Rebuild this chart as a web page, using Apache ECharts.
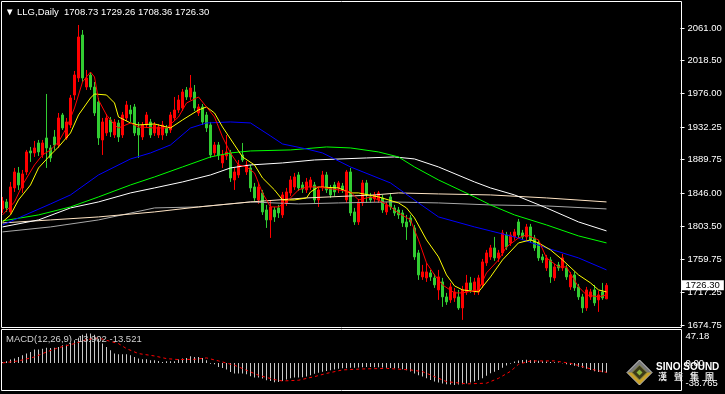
<!DOCTYPE html>
<html><head><meta charset="utf-8">
<script src="https://cdn.jsdelivr.net/npm/echarts@6/dist/echarts.min.js"></script>
<style>html,body{margin:0;padding:0;background:#000;overflow:hidden}#c{width:725px;height:394px}</style>
</head><body><div id="c"></div>
<script>
const symbolName = 'LLG,Daily';
const opens = [1825.7,1834.8,1821.8,1853.0,1872.5,1853.0,1873.8,1901.1,1898.5,1911.5,1895.9,1918.0,1905.0,1919.3,1908.9,1947.9,1918.0,1934.9,1973.9,1996.0,2051.9,1984.3,1999.9,1984.3,1964.8,1915.4,1924.5,1941.4,1921.9,1937.5,1921.9,1944.0,1954.4,1958.3,1931.0,1919.3,1934.9,1938.8,1924.5,1921.9,1921.9,1931.0,1928.4,1944.0,1954.4,1957.0,1980.4,1971.3,1977.8,1950.5,1958.3,1947.9,1934.9,1898.5,1908.9,1885.5,1894.6,1898.5,1863.4,1869.9,1895.9,1873.8,1879.0,1854.3,1837.4,1846.5,1824.4,1811.4,1824.4,1827.0,1817.9,1833.5,1846.5,1854.3,1869.9,1856.9,1850.4,1854.3,1856.9,1837.4,1853.0,1869.9,1853.0,1856.9,1853.0,1855.6,1837.4,1873.8,1821.8,1808.8,1833.5,1859.5,1841.3,1838.7,1837.4,1840.0,1821.8,1841.3,1827.0,1824.4,1820.5,1808.8,1814.0,1801.0,1768.5,1737.3,1736.0,1742.5,1736.0,1720.4,1730.8,1711.3,1707.4,1710.0,1711.3,1697.0,1717.8,1729.5,1717.8,1717.8,1726.9,1755.5,1763.3,1775.0,1762.0,1768.5,1791.9,1781.5,1789.3,1808.8,1794.5,1789.3,1802.3,1788.0,1781.5,1763.3,1749.0,1759.4,1736.0,1752.9,1749.0,1749.0,1724.3,1739.9,1724.3,1711.3,1697.0,1711.3,1720.4,1707.4,1717.8,1708.73];
const closes = [1836.1,1827.0,1854.3,1873.8,1856.9,1871.2,1899.8,1898.5,1905.0,1899.8,1911.5,1905.0,1892.0,1908.9,1944.0,1931.0,1938.8,1970.0,1999.9,2049.3,1996.0,1996.0,1984.3,1950.5,1918.0,1938.8,1944.0,1925.8,1938.8,1919.3,1947.9,1960.9,1949.2,1924.5,1921.9,1934.9,1947.9,1921.9,1934.9,1932.3,1934.9,1924.5,1947.9,1954.4,1967.4,1977.8,1971.3,1983.0,1957.0,1958.3,1938.8,1931.0,1895.9,1908.9,1895.9,1895.9,1899.8,1866.0,1873.8,1882.9,1889.4,1882.9,1853.0,1840.0,1854.3,1821.8,1811.4,1828.3,1815.3,1820.5,1843.9,1847.8,1863.4,1867.3,1853.0,1851.7,1860.8,1863.4,1837.4,1850.4,1869.9,1850.4,1843.9,1847.8,1859.5,1850.4,1873.8,1820.5,1808.8,1834.8,1859.5,1843.9,1837.4,1843.9,1846.5,1824.4,1830.9,1828.3,1820.5,1817.9,1807.5,1802.3,1808.8,1763.3,1739.9,1743.8,1743.8,1737.3,1726.9,1737.3,1711.3,1704.8,1724.3,1717.8,1697.0,1720.4,1729.5,1720.4,1730.8,1736.0,1756.8,1768.5,1775.0,1762.0,1768.5,1794.5,1776.3,1791.9,1795.8,1791.9,1789.3,1802.3,1785.4,1775.0,1762.0,1759.4,1762.0,1737.3,1750.3,1749.0,1762.0,1737.3,1739.9,1723.0,1711.3,1697.0,1720.4,1717.8,1703.5,1713.9,1710.0,1726.30];
const lows = [1820.5,1821.8,1819.2,1847.8,1850.4,1846.5,1869.9,1886.8,1893.3,1894.6,1892.0,1879.0,1886.8,1902.4,1905.0,1928.4,1915.4,1931.0,1967.4,1990.8,1990.8,1980.4,1980.4,1946.6,1908.9,1895.9,1920.6,1919.3,1918.0,1912.8,1918.0,1940.1,1938.8,1920.6,1892.0,1915.4,1931.0,1918.0,1920.6,1918.0,1915.4,1920.6,1924.5,1940.1,1950.5,1953.1,1967.4,1967.4,1953.1,1946.6,1934.9,1925.8,1892.0,1894.6,1889.4,1879.0,1889.4,1860.8,1850.4,1866.0,1886.8,1869.9,1847.8,1836.1,1832.2,1817.9,1801.0,1788.0,1808.8,1814.0,1814.0,1829.6,1842.6,1850.4,1849.1,1846.5,1846.5,1850.4,1833.5,1828.3,1849.1,1846.5,1840.0,1842.6,1846.5,1846.5,1833.5,1816.6,1804.9,1804.9,1829.6,1833.5,1833.5,1834.8,1833.5,1820.5,1817.9,1824.4,1816.6,1812.7,1802.3,1785.4,1803.6,1759.4,1733.4,1733.4,1730.8,1732.1,1723.0,1707.4,1698.3,1700.9,1703.5,1704.8,1694.4,1681.4,1713.9,1716.5,1713.9,1713.9,1723.0,1751.6,1759.4,1758.1,1756.8,1764.6,1772.4,1777.6,1785.4,1788.0,1785.4,1785.4,1781.5,1771.1,1758.1,1755.5,1745.1,1729.5,1732.1,1745.1,1745.1,1733.4,1720.4,1719.1,1707.4,1690.5,1693.1,1707.4,1699.6,1691.8,1707.4,1708.36];
const highs = [1841.3,1838.7,1860.8,1879.0,1880.3,1876.4,1902.4,1906.3,1914.1,1915.4,1915.4,1975.2,1908.9,1928.4,1950.5,1950.5,1944.0,1973.9,2005.1,2064.9,2058.4,2006.4,2003.8,1990.8,1970.0,1944.0,1949.2,1945.3,1942.7,1941.4,1951.8,1966.1,1960.9,1962.2,1938.8,1938.8,1951.8,1942.7,1938.8,1936.2,1940.1,1934.9,1951.8,1971.3,1973.9,1981.7,1984.3,1999.9,1986.9,1962.2,1962.2,1951.8,1938.8,1912.8,1912.8,1902.4,1921.9,1902.4,1879.0,1889.4,1911.5,1888.1,1882.9,1859.5,1859.5,1850.4,1830.9,1837.4,1828.3,1830.9,1847.8,1853.0,1868.6,1872.5,1873.8,1860.8,1866.0,1867.3,1860.8,1854.3,1875.1,1873.8,1856.9,1860.8,1862.1,1859.5,1876.4,1879.0,1827.0,1838.7,1863.4,1863.4,1846.5,1847.8,1849.1,1843.9,1834.8,1846.5,1830.9,1828.3,1824.4,1817.9,1817.9,1804.9,1772.4,1752.9,1755.5,1746.4,1741.2,1746.4,1736.0,1716.5,1729.5,1723.0,1720.4,1725.6,1739.9,1737.3,1736.0,1739.9,1760.7,1772.4,1778.9,1789.3,1772.4,1798.4,1795.8,1795.8,1799.7,1812.7,1798.4,1806.2,1806.2,1791.9,1785.4,1767.2,1765.9,1763.3,1754.2,1756.8,1767.2,1752.9,1743.8,1743.8,1728.2,1715.2,1724.3,1721.7,1726.9,1719.1,1729.5,1729.26];
const priceTicks = [2061.00, 2018.50, 1976.00, 1932.25, 1889.75, 1846.00, 1803.50, 1759.75, 1717.25, 1674.75];
// moving averages: [candle index, price]
const maRed = [[0,1817.9],[3,1834.8],[5,1856.9],[8,1882.9],[10,1895.9],[12,1902.4],[14,1912.8],[16,1931.0],[18,1957.0],[20,1990.8],[22,2003.8],[23,1997.3],[24,1967.4],[26,1947.9],[28,1934.9],[29,1931.0],[32,1937.5],[34,1932.3],[38,1931.0],[41,1931.0],[44,1945.3],[46,1963.5],[49,1971.3],[51,1958.3],[53,1945.3],[55,1919.3],[57,1898.5],[59,1882.9],[61,1880.3],[63,1872.5],[65,1846.5],[67,1828.3],[69,1828.3],[71,1834.8],[74,1850.4],[76,1854.3],[79,1854.3],[84,1850.4],[87,1847.8],[89,1837.4],[92,1841.3],[94,1837.4],[97,1828.3],[99,1820.5],[102,1811.4],[104,1785.4],[106,1755.5],[108,1739.9],[110,1726.9],[113,1716.5],[115,1716.5],[119,1720.4],[121,1742.5],[124,1759.4],[126,1776.3],[129,1788.0],[131,1791.9],[134,1785.4],[136,1762.0],[139,1750.3],[141,1750.3],[144,1724.3],[146,1713.9],[149,1711.3],[151,1713.9]];
const maYellow = [[0,1808.8],[2,1817.9],[4,1837.4],[7,1856.9],[9,1879.0],[12,1895.9],[14,1906.3],[17,1924.5],[19,1947.9],[22,1970.0],[23,1975.2],[26,1973.9],[28,1963.5],[29,1945.3],[32,1937.5],[34,1934.9],[38,1936.2],[42,1931.0],[45,1941.4],[49,1954.4],[51,1958.3],[53,1950.5],[55,1932.3],[58,1908.9],[60,1893.3],[63,1882.9],[65,1866.0],[68,1850.4],[70,1837.4],[73,1837.4],[76,1840.0],[77,1847.8],[79,1854.3],[84,1853.0],[87,1846.5],[89,1846.5],[94,1841.3],[99,1833.5],[101,1827.0],[103,1814.0],[106,1785.4],[109,1763.3],[111,1739.9],[113,1725.6],[115,1720.4],[119,1717.8],[122,1737.3],[125,1759.4],[129,1781.5],[132,1785.4],[134,1781.5],[137,1772.4],[140,1759.4],[144,1739.9],[147,1729.5],[149,1720.4],[151,1717.8]];
const maBlue = [[0,1804.9],[12,1832.2],[17,1843.9],[24,1869.9],[32,1890.7],[37,1898.5],[42,1908.9],[47,1931.0],[51,1937.5],[57,1938.8],[62,1937.5],[67,1920.6],[70,1910.2],[76,1903.7],[80,1898.5],[87,1880.3],[97,1859.5],[104,1833.5],[109,1815.3],[118,1802.3],[122,1797.1],[128,1789.3],[136,1775.0],[144,1762.0],[151,1746.4]];
const maGreen = [[0,1810.1],[9,1817.9],[17,1828.3],[24,1841.3],[32,1856.9],[38,1867.3],[45,1880.3],[52,1893.3],[57,1898.5],[62,1901.1],[72,1902.4],[81,1906.3],[87,1905.0],[94,1899.8],[99,1893.3],[103,1880.3],[109,1863.4],[118,1841.3],[122,1830.9],[128,1817.9],[136,1804.9],[144,1790.6],[151,1781.5]];
const maWhite = [[0,1802.3],[9,1811.4],[17,1827.0],[24,1834.8],[32,1846.5],[38,1853.0],[45,1860.8],[52,1869.9],[57,1879.0],[62,1882.9],[70,1885.5],[78,1889.4],[91,1892.0],[98,1893.3],[103,1890.7],[109,1880.3],[118,1860.8],[122,1853.0],[128,1843.9],[136,1827.0],[144,1808.8],[151,1797.1]];
const maPeach = [[0,1807.5],[12,1811.4],[24,1815.3],[38,1821.8],[49,1828.3],[62,1834.8],[76,1840.0],[93,1843.9],[99,1846.5],[109,1845.2],[122,1843.9],[136,1840.0],[151,1834.8]];
const maGrey = [[0,1795.8],[12,1802.3],[24,1811.4],[38,1827.0],[49,1828.3],[62,1834.8],[74,1832.2],[84,1833.5],[97,1834.8],[109,1833.5],[122,1830.9],[136,1829.6],[151,1825.7]];
const macdHist = [1.4,2.4,4.8,6.2,8.6,11.0,13.4,15.7,19.1,19.1,20.5,21.9,21.5,21.9,22.9,25.3,26.2,28.6,32.4,35.8,40.5,42.0,42.0,40.5,34.8,27.7,22.9,18.1,13.4,12.4,12.4,12.4,11.0,8.6,6.2,5.2,5.2,3.8,3.8,2.9,1.4,2.4,2.4,2.4,4.8,6.2,7.2,9.5,8.6,8.6,7.2,3.8,-1.0,-1.9,-5.7,-7.2,-9.5,-12.9,-15.3,-15.3,-15.3,-16.2,-19.1,-21.0,-21.0,-22.4,-24.8,-25.8,-27.7,-27.2,-25.8,-23.9,-21.9,-21.0,-21.0,-20.5,-19.5,-17.5,-15.5,-14.0,-12.5,-11.5,-10.5,-9.5,-8.5,-7.6,-7.5,-7.0,-7.0,-6.5,-6.0,-5.8,-5.8,-6.0,-6.0,-6.5,-6.8,-7.2,-7.6,-7.6,-9.0,-10.5,-12.4,-15.0,-17.5,-19.6,-22.0,-24.5,-26.7,-28.0,-29.5,-30.5,-31.0,-31.5,-31.0,-30.5,-29.5,-28.0,-26.7,-24.5,-22.0,-18.5,-14.8,-12.5,-10.0,-7.0,-3.8,-1.0,1.9,3.5,4.3,4.5,4.3,4.0,3.2,2.5,1.9,1.5,1.0,0.5,-0.5,-1.9,-3.0,-4.2,-5.3,-7.0,-8.5,-10.0,-11.8,-13.0,-13.5,-13.902];
const macdSignal = [[0,0],[4,2.9],[8,8.6],[11,15.7],[14,21.9],[18,27.7],[21,33.4],[24,35.8],[26,32.4],[29,27.7],[31,20.5],[34,13.4],[38,10.0],[41,6.2],[44,4.8],[48,5.2],[51,7.2],[54,2.9],[58,-3.3],[61,-10.5],[64,-17.6],[68,-23.9],[70,-25.8],[74,-24.8],[78,-19.6],[81,-15.0],[85,-10.0],[90,-8.6],[96,-7.8],[102,-10.0],[105,-12.4],[108,-19.6],[111,-26.7],[116,-30.0],[121,-29.0],[124,-22.0],[127,-12.0],[129,-1.9],[132,2.9],[138,2.9],[142,-0.5],[145,-5.3],[148,-10.0],[151,-13.521]];
const macdTickValues = [47.18, 0, -38.765];
const macdTickLabels = ['47.18', '0.00', '-38.765'];
const macdTitle = 'MACD(12,26,9) -13.902 -13.521';
const slotCount = 170;

const FONT = '"Liberation Sans", "DejaVu Sans", sans-serif';
const slots = Array.from({length: slotCount}, (_, i) => String(i));
const n = opens.length - 1;
const candleData = opens.map((o, i) => [o, closes[i], lows[i], highs[i]]);
const headerText = '\u25BC ' + symbolName + '  ' + [opens[n], highs[n], lows[n], closes[n]].map(v => v.toFixed(2)).join(' ');

function maSeries(data, color) {
  return {type: 'line', xAxisIndex: 0, yAxisIndex: 0, data: data, symbol: 'none', silent: true, z: 3,
    lineStyle: {color: color, width: 1}};
}

const chart = echarts.init(document.getElementById('c'), null, {renderer: 'canvas'});
chart.setOption({
  backgroundColor: '#000',
  animation: false,
  grid: [
    {left: 0.5, top: 1.5, width: 680, height: 325.5},
    {left: 0.5, top: 330, width: 680, height: 60}
  ],
  xAxis: [
    {type: 'category', data: slots, gridIndex: 0, show: false, boundaryGap: true},
    {type: 'category', data: slots, gridIndex: 1, show: false, boundaryGap: true}
  ],
  yAxis: [
    {gridIndex: 0, position: 'right', min: 1672.15, max: 2095.46,
      axisLine: {show: false}, splitLine: {show: false},
      axisTick: {show: true, length: 4, lineStyle: {color: '#fff'}, customValues: priceTicks},
      axisLabel: {customValues: priceTicks, color: '#fff', fontSize: 9.5, fontFamily: FONT, margin: 7,
        formatter: v => v.toFixed(2)}},
    {gridIndex: 1, position: 'right', min: -38.765, max: 47.18,
      axisLine: {show: false}, splitLine: {show: false}, axisTick: {show: false},
      axisLabel: {customValues: macdTickValues, color: '#fff', fontSize: 9.5, fontFamily: FONT, margin: 5,
        formatter: v => {
          const k = macdTickValues.findIndex(t => Math.abs(t - v) < 1e-6);
          const s = k >= 0 ? macdTickLabels[k] : v.toFixed(2);
          if (k === 0) return '{t|' + s + '}';
          if (k === 2) return '{b|' + s + '}';
          return s;
        },
        rich: {t: {padding: [12, 0, 0, 0], color: '#fff', fontSize: 9.5, fontFamily: FONT},
               b: {padding: [0, 0, 14, 0], color: '#fff', fontSize: 9.5, fontFamily: FONT}}}}
  ],
  series: [
    maSeries(maGrey, '#a8a8a8'),
    maSeries(maPeach, '#ffe4c4'),
    maSeries(maWhite, '#ffffff'),
    maSeries(maGreen, '#00ff00'),
    maSeries(maBlue, '#0000ff'),
    {type: 'candlestick', xAxisIndex: 0, yAxisIndex: 0, data: candleData, barWidth: 2, z: 2, silent: true,
      itemStyle: {color: '#ff0000', color0: '#32cd32', borderColor: '#ff0000', borderColor0: '#32cd32', borderWidth: 1}},
    {type: 'line', xAxisIndex: 0, yAxisIndex: 0, data: [], silent: true, z: 20,
      markLine: {symbol: 'none', silent: true, animation: false,
        lineStyle: {color: 'rgba(0,0,0,0)', width: 1, type: 'solid'},
        label: {show: true, position: 'end', distance: 1, formatter: closes[n].toFixed(2), backgroundColor: '#ffffff', color: '#000000',
          fontSize: 9.5, fontFamily: FONT, padding: [0, 4, 0, 4], lineHeight: 10},
        emphasis: {disabled: true},
        data: [{yAxis: closes[n]}]}},
    maSeries(maYellow, '#ffff00'),
    maSeries(maRed, '#ff0000'),
    {type: 'bar', xAxisIndex: 1, yAxisIndex: 1, data: macdHist, barWidth: 1, silent: true,
      itemStyle: {color: '#c8c8c8'}},
    {type: 'line', xAxisIndex: 1, yAxisIndex: 1, data: macdSignal, symbol: 'none', silent: true, z: 3,
      lineStyle: {color: '#ff0000', width: 1, type: [3, 3]}}
  ],
  graphic: [
    {type: 'rect', shape: {x: 1.5, y: 1.5, width: 680, height: 326}, style: {fill: 'none', stroke: '#fff', lineWidth: 1}, z: 50, silent: true},
    {type: 'rect', shape: {x: 1.5, y: 329.5, width: 680, height: 61}, style: {fill: 'none', stroke: '#fff', lineWidth: 1}, z: 50, silent: true},
    {type: 'text', x: 5, y: 7, style: {text: headerText, fill: '#ffffff', font: '9.5px ' + FONT}, z: 60, silent: true},
    {type: 'text', x: 6, y: 334, style: {text: macdTitle, fill: '#d0d0d0', font: '9.5px ' + FONT}, z: 60, silent: true},
    {type: 'group', z: 100, silent: true, children: [
      {type: 'polygon', shape: {points: [[639.5, 360], [652, 372.5], [639.5, 385], [627, 372.5]]}, style: {fill: '#7a7a7a', stroke: '#d8d8d8', lineWidth: 1}, z: 100},
      {type: 'polygon', shape: {points: [[627.5, 372.5], [651.5, 372.5], [639.5, 384.5]]}, style: {fill: '#c9a227'}, z: 101},
      {type: 'polygon', shape: {points: [[639.5, 365], [647, 372.5], [639.5, 380], [632, 372.5]]}, style: {fill: '#3c3a18', stroke: '#8a8a4a', lineWidth: 1}, z: 102},
      {type: 'polygon', shape: {points: [[639.5, 369.5], [642.5, 372.5], [639.5, 375.5], [636.5, 372.5]]}, style: {fill: '#8cb43c'}, z: 103},
      {type: 'text', x: 656, y: 362, style: {text: 'SINO SOUND', fill: '#ffffff', font: 'bold 10px ' + FONT}, z: 104},
      {type: 'text', x: 658, y: 372, style: {text: '漢', fill: '#e8e8e8', font: 'bold 9px "Noto Sans CJK TC"'}, z: 104},
      {type: 'text', x: 674, y: 372, style: {text: '聲', fill: '#e8e8e8', font: 'bold 9px "Noto Sans CJK TC"'}, z: 104},
      {type: 'text', x: 690, y: 372, style: {text: '集', fill: '#e8e8e8', font: 'bold 9px "Noto Sans CJK TC"'}, z: 104},
      {type: 'text', x: 705, y: 372, style: {text: '團', fill: '#e8e8e8', font: 'bold 9px "Noto Sans CJK TC"'}, z: 104}
    ]}
  ]
});
</script>
</body></html>
